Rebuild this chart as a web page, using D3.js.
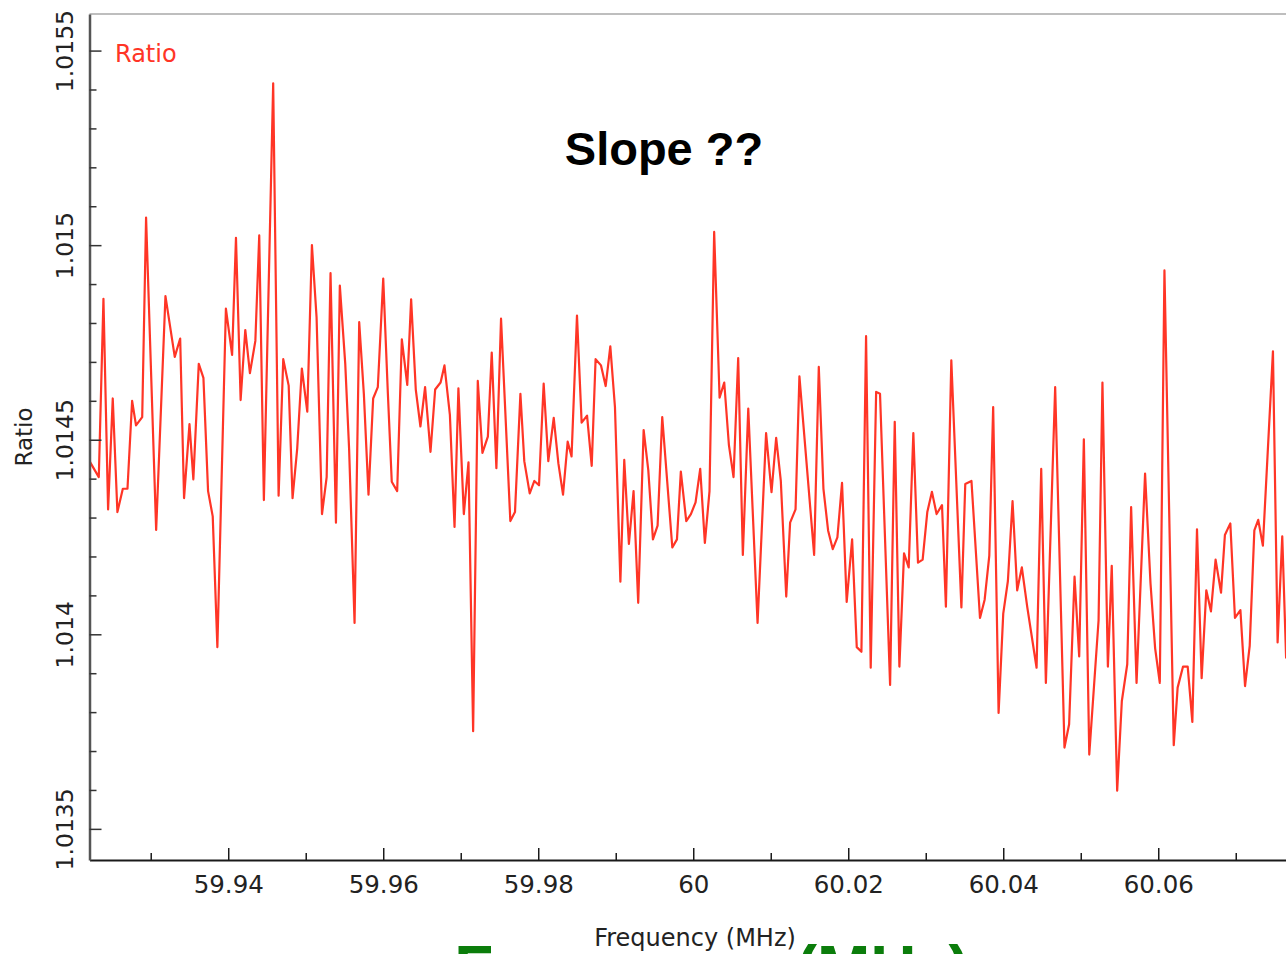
<!DOCTYPE html>
<html>
<head>
<meta charset="utf-8">
<script src="https://cdn.jsdelivr.net/npm/d3@7"></script>
<style>
  html, body { margin: 0; padding: 0; background: #fff; overflow: hidden; }
  svg { display: block; }
  .tick text { font-family: "DejaVu Sans", sans-serif; fill: #222; }
</style>
</head>
<body>
<div id="chart"></div>
<script>
// frequency of each channel (MHz)
const freq = [
  59.9221, 59.9233, 59.9239, 59.9245, 59.9251, 59.9257, 59.9264, 59.9270, 59.9276, 59.9281,
  59.9289, 59.9294, 59.9307, 59.9319, 59.9331, 59.9338, 59.9343, 59.9350, 59.9355, 59.9362,
  59.9368, 59.9374, 59.9380, 59.9386, 59.9397, 59.9405, 59.9410, 59.9416, 59.9422, 59.9428,
  59.9435, 59.9440, 59.9446, 59.9458, 59.9465, 59.9471, 59.9478, 59.9483, 59.9489, 59.9495,
  59.9502, 59.9508, 59.9514, 59.9521, 59.9527, 59.9532, 59.9539, 59.9544, 59.9551, 59.9556,
  59.9563, 59.9569, 59.9575, 59.9581, 59.9587, 59.9593, 59.9600, 59.9606, 59.9611, 59.9618,
  59.9624, 59.9631, 59.9636, 59.9642, 59.9648, 59.9654, 59.9661, 59.9667, 59.9674, 59.9679,
  59.9686, 59.9692, 59.9697, 59.9704, 59.9710, 59.9716, 59.9722, 59.9728, 59.9735, 59.9740,
  59.9746, 59.9752, 59.9764, 59.9770, 59.9777, 59.9782, 59.9789, 59.9795, 59.9801, 59.9807,
  59.9813, 59.9820, 59.9826, 59.9832, 59.9838, 59.9843, 59.9850, 59.9856, 59.9863, 59.9869,
  59.9874, 59.9881, 59.9887, 59.9893, 59.9899, 59.9906, 59.9911, 59.9917, 59.9923, 59.9929,
  59.9936, 59.9942, 59.9948, 59.9954, 59.9960, 59.9973, 59.9979, 59.9984, 59.9991, 59.9997,
  60.0003, 60.0009, 60.0015, 60.0021, 60.0027, 60.0034, 60.0040, 60.0046, 60.0052, 60.0058,
  60.0064, 60.0071, 60.0083, 60.0094, 60.0101, 60.0107, 60.0113, 60.0120, 60.0125, 60.0132,
  60.0137, 60.0156, 60.0162, 60.0168, 60.0174, 60.0180, 60.0186, 60.0192, 60.0198, 60.0205,
  60.0211, 60.0217, 60.0223, 60.0229, 60.0236, 60.0241, 60.0254, 60.0260, 60.0266, 60.0272,
  60.0278, 60.0284, 60.0290, 60.0296, 60.0302, 60.0308, 60.0314, 60.0321, 60.0326, 60.0333,
  60.0346, 60.0351, 60.0359, 60.0370, 60.0376, 60.0382, 60.0387, 60.0394, 60.0400, 60.0406,
  60.0412, 60.0418, 60.0424, 60.0431, 60.0443, 60.0449, 60.0455, 60.0467, 60.0479, 60.0485,
  60.0492, 60.0498, 60.0504, 60.0511, 60.0523, 60.0528, 60.0535, 60.0540, 60.0547, 60.0553,
  60.0560, 60.0565, 60.0572, 60.0583, 60.0590, 60.0596, 60.0602, 60.0608, 60.0620, 60.0625,
  60.0632, 60.0638, 60.0644, 60.0650, 60.0656, 60.0662, 60.0668, 60.0674, 60.0681, 60.0686,
  60.0693, 60.0699, 60.0706, 60.0712, 60.0718, 60.0724, 60.0729, 60.0735, 60.0748, 60.0754,
  60.0760, 60.0765
];

// ratio at each channel
const ratio = [
  1.014445, 1.014404, 1.014862, 1.014321, 1.014606, 1.014314, 1.014374, 1.014374, 1.014600, 1.014537,
  1.014558, 1.015071, 1.014268, 1.014869, 1.014713, 1.014760, 1.014350, 1.014540, 1.014398, 1.014695,
  1.014659, 1.014368, 1.014303, 1.013967, 1.014837, 1.014718, 1.015019, 1.014602, 1.014782, 1.014671,
  1.014754, 1.015025, 1.014345, 1.015416, 1.014356, 1.014707, 1.014639, 1.014350, 1.014477, 1.014683,
  1.014572, 1.015000, 1.014814, 1.014309, 1.014404, 1.014928, 1.014287, 1.014896, 1.014695, 1.014475,
  1.014029, 1.014802, 1.014618, 1.014359, 1.014606, 1.014635, 1.014914, 1.014618, 1.014392, 1.014368,
  1.014758, 1.014641, 1.014861, 1.014629, 1.014534, 1.014635, 1.014469, 1.014629, 1.014647, 1.014691,
  1.014564, 1.014276, 1.014632, 1.014309, 1.014442, 1.013751, 1.014651, 1.014466, 1.014508, 1.014724,
  1.014427, 1.014811, 1.014291, 1.014314, 1.014618, 1.014445, 1.014362, 1.014394, 1.014383, 1.014644,
  1.014445, 1.014556, 1.014439, 1.014359, 1.014495, 1.014457, 1.014819, 1.014544, 1.014562, 1.014433,
  1.014707, 1.014691, 1.014638, 1.014740, 1.014584, 1.014135, 1.014448, 1.014232, 1.014368, 1.014081,
  1.014525, 1.014422, 1.014244, 1.014279, 1.014558, 1.014223, 1.014244, 1.014418, 1.014291, 1.014309,
  1.014339, 1.014425, 1.014235, 1.014368, 1.015034, 1.014608, 1.014647, 1.014487, 1.014404, 1.014710,
  1.014204, 1.014580, 1.014029, 1.014517, 1.014365, 1.014505, 1.014394, 1.014097, 1.014287, 1.014321,
  1.014663, 1.014204, 1.014687, 1.014374, 1.014267, 1.014219, 1.014249, 1.014389, 1.014083, 1.014244,
  1.013967, 1.013955, 1.014766, 1.013914, 1.014623, 1.014618, 1.013870, 1.014546, 1.013917, 1.014208,
  1.014172, 1.014517, 1.014184, 1.014192, 1.014314, 1.014366, 1.014309, 1.014332, 1.014071, 1.014704,
  1.014069, 1.014386, 1.014394, 1.014042, 1.014089, 1.014202, 1.014584, 1.013798, 1.014053, 1.014137,
  1.014342, 1.014113, 1.014172, 1.014070, 1.013914, 1.014425, 1.013875, 1.014635, 1.013709, 1.013769,
  1.014148, 1.013943, 1.014501, 1.013691, 1.014036, 1.014647, 1.013917, 1.014176, 1.013598, 1.013828,
  1.013923, 1.014327, 1.013875, 1.014413, 1.014131, 1.013964, 1.013875, 1.014935, 1.013715, 1.013863,
  1.013917, 1.013917, 1.013775, 1.014270, 1.013887, 1.014113, 1.014059, 1.014192, 1.014107, 1.014255,
  1.014285, 1.014042, 1.014062, 1.013867, 1.013970, 1.014267, 1.014294, 1.014228, 1.014727, 1.013979,
  1.014252, 1.013938
];

// axis ticks
const xMajor = [59.94, 59.96, 59.98, 60, 60.02, 60.04, 60.06];
const xMinor = [59.93, 59.95, 59.97, 59.99, 60.01, 60.03, 60.05, 60.07];
const yMajor = [1.0135, 1.014, 1.0145, 1.015, 1.0155];
const yMinor = [1.0136, 1.0137, 1.0138, 1.0139, 1.0141, 1.0142, 1.0143, 1.0144,
                1.0146, 1.0147, 1.0148, 1.0149, 1.0151, 1.0152, 1.0153, 1.0154];

const xDomain = [59.9221, 60.0770];
const yDomain = [1.01342, 1.015594];

//variables
let width = 1286;
let height = 954;
let plot = {left: 89.5, right: 1290, top: 14, bottom: 860};

const svg = d3.select("#chart")
  .append("svg")
  .attr("width", width)
  .attr("height", height);

const x = d3.scaleLinear().domain(xDomain).range([plot.left, plot.right]);
const y = d3.scaleLinear().domain(yDomain).range([plot.bottom, plot.top]);

svg.append("clipPath")
  .attr("id", "plot-clip")
  .append("rect")
  .attr("x", plot.left)
  .attr("y", plot.top)
  .attr("width", plot.right - plot.left)
  .attr("height", plot.bottom - plot.top);

// top frame line
svg.append("line")
  .attr("x1", plot.left).attr("x2", width)
  .attr("y1", plot.top).attr("y2", plot.top)
  .attr("stroke", "#a8a8a8")
  .attr("stroke-width", 1.5);

// the ratio trace
const line = d3.line()
  .x((d, i) => x(freq[i]))
  .y(d => y(d));

svg.append("path")
  .datum(ratio)
  .attr("clip-path", "url(#plot-clip)")
  .attr("d", line)
  .attr("fill", "none")
  .attr("stroke", "#ff3526")
  .attr("stroke-width", 2.2)
  .attr("stroke-linejoin", "round");

//axes
const fmt = d => String(+d.toFixed(4));

const xAxis = svg.append("g")
  .attr("transform", `translate(0, ${plot.bottom})`)
  .call(d3.axisBottom(x).tickValues(xMajor).tickSizeInner(-12).tickSizeOuter(0).tickFormat(fmt));

xAxis.select(".domain").attr("stroke", "#1a1a1a").attr("stroke-width", 2);
xAxis.selectAll(".tick line").attr("stroke", "#1a1a1a").attr("stroke-width", 1.5);
xAxis.selectAll(".tick text")
  .attr("y", 33)
  .attr("dy", 0)
  .style("font-size", "24.5px");

svg.append("g")
  .attr("transform", `translate(0, ${plot.bottom})`)
  .call(d3.axisBottom(x).tickValues(xMinor).tickSizeInner(-7).tickSizeOuter(0).tickFormat(""))
  .call(g => g.select(".domain").remove())
  .call(g => g.selectAll(".tick line").attr("stroke", "#1a1a1a").attr("stroke-width", 1.5));

const yAxis = svg.append("g")
  .attr("transform", `translate(${plot.left}, 0)`)
  .call(d3.axisLeft(y).tickValues(yMajor).tickSizeInner(-12).tickSizeOuter(0).tickFormat(fmt));

yAxis.select(".domain").attr("stroke", "#555").attr("stroke-width", 2.5);
yAxis.selectAll(".tick line").attr("stroke", "#333").attr("stroke-width", 1.5);
yAxis.selectAll(".tick text")
  .attr("x", 0)
  .attr("dy", 0)
  .attr("text-anchor", "middle")
  .attr("transform", "translate(-17, 0) rotate(-90)")
  .style("font-size", "23.5px");

svg.append("g")
  .attr("transform", `translate(${plot.left}, 0)`)
  .call(d3.axisLeft(y).tickValues(yMinor).tickSizeInner(-7).tickSizeOuter(0).tickFormat(""))
  .call(g => g.select(".domain").remove())
  .call(g => g.selectAll(".tick line").attr("stroke", "#333").attr("stroke-width", 1.5));

//texts
add_text(115, 62, "Ratio", {size: 24, fill: "#ff3526"});
add_text(32, 437, "Ratio", {size: 23, fill: "#222", anchor: "middle", rotate: true});
add_text(695, 946, "Frequency (MHz)", {size: 24, fill: "#222", anchor: "middle"});
add_text(664, 165, "Slope ??", {size: 47, fill: "#000", anchor: "middle", weight: "bold", family: "'Liberation Sans', Arial, sans-serif"});
add_text(712, 991, "Frequency (MHz)", {size: 64, fill: "#0b7d0b", anchor: "middle", weight: "bold", family: "'Liberation Sans', Arial, sans-serif"});

function add_text(px, py, text, o) {
  const t = svg.append("text")
    .attr("transform", o.rotate ? `translate(${px}, ${py}) rotate(-90)` : `translate(${px}, ${py})`)
    .attr("text-anchor", o.anchor || "start")
    .style("font-family", o.family || "'DejaVu Sans', sans-serif")
    .style("font-size", o.size + "px")
    .style("font-weight", o.weight || "normal")
    .attr("fill", o.fill)
    .text(text);
  return t;
}
</script>
</body>
</html>
